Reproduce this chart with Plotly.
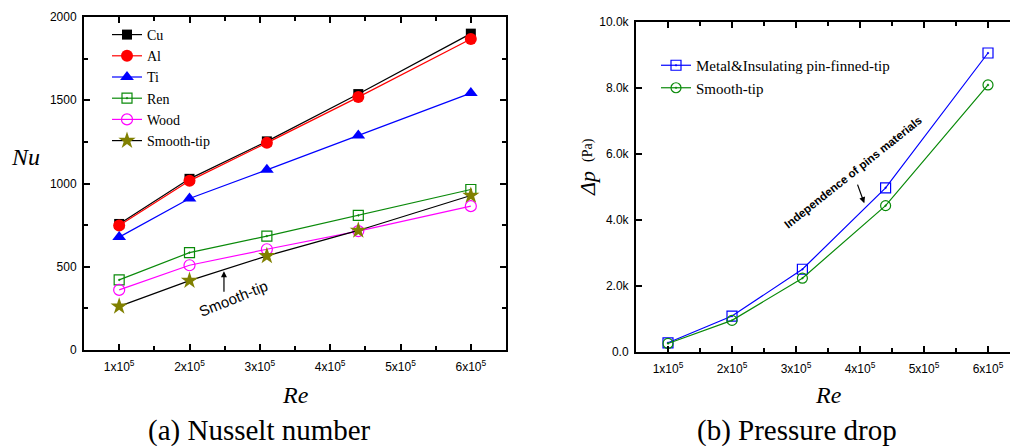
import plotly.graph_objects as go

# ---------------- data ----------------
re_vals = [1.0e5, 2.0e5, 3.1e5, 4.4e5, 6.0e5]

nu_cu = [757, 1028, 1253, 1537, 1900]
nu_al = [748, 1016, 1244, 1519, 1868]
nu_ti = [678, 910, 1082, 1288, 1543]
nu_ren = [421, 585, 684, 808, 964]
nu_wood = [361, 509, 605, 714, 864]
nu_smooth = [262, 417, 565, 718, 928]

dp_metal = [270, 1080, 2500, 4970, 9060]
dp_smooth = [250, 950, 2230, 4430, 8090]

x_tickvals = [1e5, 2e5, 3e5, 4e5, 5e5, 6e5]
x_ticktext = ["1x10<sup>5</sup>", "2x10<sup>5</sup>", "3x10<sup>5</sup>",
              "4x10<sup>5</sup>", "5x10<sup>5</sup>", "6x10<sup>5</sup>"]
nu_tickvals = [0, 500, 1000, 1500, 2000]
dp_tickvals = [0, 2000, 4000, 6000, 8000, 10000]
dp_ticktext = ["0.0", "2.0k", "4.0k", "6.0k", "8.0k", "10.0k"]

W, H = 1010, 446
SANS = "Liberation Sans, Arial"
SERIF = "Liberation Serif, Times New Roman"

fig = go.Figure()

lw = 1.2
left_series = [
    ("Cu", nu_cu, "black", dict(symbol="square", size=10, color="black")),
    ("Al", nu_al, "red", dict(symbol="circle", size=12, color="red")),
    ("Ti", nu_ti, "blue", dict(symbol="triangle-up", size=12, color="blue")),
    ("Ren", nu_ren, "#0a8a0a", dict(symbol="square-open-dot", size=10, color="#0a8a0a", line=dict(width=1.2))),
    ("Wood", nu_wood, "#ff00ff", dict(symbol="circle-open", size=11, color="#ff00ff", line=dict(width=1.2))),
    ("Smooth-tip", nu_smooth, "black", dict(symbol="star", size=13, color="#808000", line=dict(width=0))),
]
for name, ys, lc, mk in left_series:
    fig.add_trace(go.Scatter(x=re_vals, y=ys, name=name, mode="lines+markers",
                             line=dict(color=lc, width=lw), marker=mk,
                             xaxis="x", yaxis="y", legend="legend"))

fig.add_trace(go.Scatter(x=re_vals, y=dp_metal, name="Metal&Insulating pin-finned-tip",
                         mode="lines+markers", line=dict(color="blue", width=lw),
                         marker=dict(symbol="square-open-dot", size=10, color="blue", line=dict(width=1.2)),
                         xaxis="x2", yaxis="y2", legend="legend2"))
fig.add_trace(go.Scatter(x=re_vals, y=dp_smooth, name="Smooth-tip",
                         mode="lines+markers", line=dict(color="#0a8a0a", width=lw),
                         marker=dict(symbol="circle-open-dot", size=10, color="#0a8a0a", line=dict(width=1.2)),
                         xaxis="x2", yaxis="y2", legend="legend2"))

axis_common = dict(showline=True, linecolor="black", linewidth=2, ticks="inside",
                   tickcolor="black", tickwidth=2, ticklen=6, showgrid=False, zeroline=False,
                   automargin=False,
                   tickfont=dict(family=SANS, size=12, color="black"))

fig.update_layout(
    width=W, height=H, margin=dict(l=0, r=0, t=0, b=0, pad=0, autoexpand=False),
    paper_bgcolor="white", plot_bgcolor="white",
    xaxis=dict(domain=[84 / W, 506 / W], range=[0.5e5, 6.5e5], tickmode="array",
               tickvals=x_tickvals, ticktext=x_ticktext, mirror="allticks",
               minor=dict(tickmode="linear", tick0=0, dtick=0.5e5, ticks="inside",
                          ticklen=4, tickwidth=2, tickcolor="black"),
               ticklabelstandoff=5, anchor="y", **axis_common),
    yaxis=dict(domain=[1 - 350 / H, 1 - 17 / H], range=[0, 2000], tickmode="array",
               tickvals=nu_tickvals, mirror="allticks",
               minor=dict(tickmode="linear", tick0=0, dtick=250, ticks="inside",
                          ticklen=4, tickwidth=2, tickcolor="black"),
               ticklabelstandoff=3, anchor="x", **axis_common),
    xaxis2=dict(domain=[636 / W, 1.0], range=[0.5e5, 0.5e5 + (W - 636) / 64 * 1e5],
                tickmode="array", tickvals=x_tickvals, ticktext=x_ticktext, mirror="allticks",
                minor=dict(tickmode="linear", tick0=0, dtick=0.5e5, ticks="inside",
                           ticklen=4, tickwidth=2, tickcolor="black"),
                ticklabelstandoff=5, anchor="y2", **axis_common),
    yaxis2=dict(domain=[1 - 351.7 / H, 1 - 22 / H], range=[0, 10000], tickmode="array",
                tickvals=dp_tickvals, ticktext=dp_ticktext, mirror=False,
                ticklabelstandoff=3, anchor="x2", **axis_common),
    legend=dict(x=107 / W, y=1 - 19 / H, xanchor="left", yanchor="top",
                bgcolor="rgba(0,0,0,0)", font=dict(family=SERIF, size=14, color="black"),
                tracegroupgap=0),
    legend2=dict(x=656 / W, y=1 - 49 / H, xanchor="left", yanchor="top",
                 bgcolor="rgba(0,0,0,0)", font=dict(family=SERIF, size=15, color="black"),
                 tracegroupgap=0),
    showlegend=True,
)

ann = []
def txt(x, y, text, size, family, angle=0, xref="paper", yref="paper", color="black"):
    ann.append(dict(x=x, y=y, xref=xref, yref=yref, text=text, textangle=angle,
                    xanchor="center", yanchor="middle", showarrow=False,
                    font=dict(family=family, size=size, color=color)))

# axis titles
txt(25 / W, 1 - 157 / H, "<i>Nu</i>", 24, SERIF)
txt(295 / W, 1 - 395 / H, "<i>Re</i>", 24, SERIF)
txt(828 / W, 1 - 395 / H, "<i>Re</i>", 24, SERIF)
txt(587 / W, 1 - 184 / H, "<i>Δp</i>", 22, SERIF, angle=-90)
txt(588 / W, 1 - 150 / H, "(Pa)", 14, SERIF, angle=-90)
# captions
txt(259.5 / W, 1 - 430 / H, "(a) Nusselt number", 29, SERIF)
txt(797 / W, 1 - 430 / H, "(b) Pressure drop", 29, SERIF)
# left chart note
txt(2.62e5, 311, "Smooth-tip", 15, SANS, angle=-22, xref="x", yref="y")
ann.append(dict(x=2.49e5, y=473, xref="x", yref="y", ax=2.49e5, ay=341, axref="x", ayref="y",
                text="", showarrow=True, arrowhead=2, arrowsize=1, arrowwidth=1.2,
                arrowcolor="black"))
# right chart note
txt(3.895e5, 5445, "<b>Independence of pins materials</b>", 11.5, SANS, angle=-38.5,
    xref="x2", yref="y2")
ann.append(dict(x=4.067e5, y=4506, xref="x2", yref="y2", ax=3.953e5, ay=5112, axref="x2", ayref="y2",
                text="", showarrow=True, arrowhead=2, arrowsize=1, arrowwidth=1.2,
                arrowcolor="black"))
fig.update_layout(annotations=ann)

fig.write_html("out.html")
